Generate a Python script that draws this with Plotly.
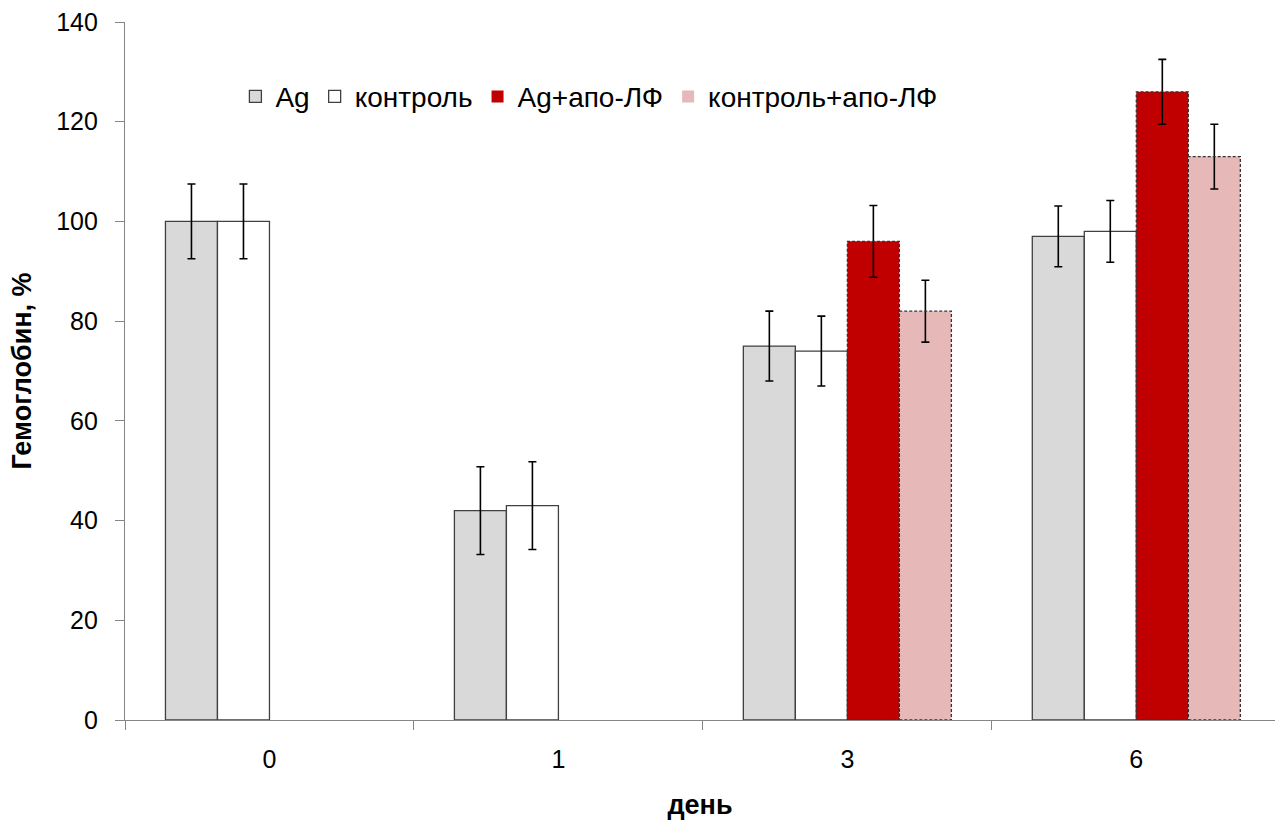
import plotly.graph_objects as go

# Days of observation
days = ["0", "1", "3", "6"]

# Hemoglobin, % of baseline, and standard errors
ag = [100, 42, 75, 97]
ag_err = [7.5, 8.8, 7.0, 6.1]
control = [100, 43, 74, 98]
control_err = [7.5, 8.8, 7.0, 6.2]
ag_apo = [None, None, 96, 126]
ag_apo_err = [None, None, 7.2, 6.5]
control_apo = [None, None, 82, 113]
control_apo_err = [None, None, 6.2, 6.5]

names = ["Ag", "контроль", "Ag+апо-ЛФ", "контроль+апо-ЛФ"]
fills = ["#d9d9d9", "#ffffff", "#c00000", "#e6b9b8"]
edge = "#404040"
FONT = "Arial, Liberation Sans, sans-serif"

series = [
    (ag, ag_err, 1),
    (control, control_err, 1),
    (ag_apo, ag_apo_err, 0),
    (control_apo, control_apo_err, 0),
]

BARGAP = 0.28
n_series = len(series)
bar_w = (1 - BARGAP) / n_series

fig = go.Figure()
shapes = []
for k, ((vals, errs, solid), name, col) in enumerate(zip(series, names, fills)):
    fig.add_trace(go.Bar(
        x=days, y=vals, name=name,
        marker=dict(color=col, line=dict(color=edge, width=1.3 if solid else 0)),
        error_y=dict(type="data", array=errs, visible=True,
                     color="#000000", thickness=1.6, width=4),
    ))
    if not solid:
        # dashed outline drawn around each bar of the series
        for i, v in enumerate(vals):
            if v is None:
                continue
            x0 = i - (1 - BARGAP) / 2 + k * bar_w
            shapes.append(dict(
                type="rect", xref="x", yref="y",
                x0=x0, x1=x0 + bar_w, y0=0, y1=v,
                line=dict(color="#333333", width=1.3, dash="3px,2px"),
                fillcolor="rgba(0,0,0,0)",
            ))

fig.update_layout(
    width=1275, height=823,
    margin=dict(l=125, r=0, t=22, b=103),
    paper_bgcolor="white", plot_bgcolor="white",
    barmode="group", bargap=BARGAP, bargroupgap=0,
    font=dict(family=FONT, size=25, color="#000000"),
    shapes=shapes,
    showlegend=True,
    legend=dict(
        orientation="h", x=0.096, y=0.893, xanchor="left", yanchor="middle",
        font=dict(size=28), bgcolor="rgba(0,0,0,0)",
        itemwidth=30, tracegroupgap=0,
    ),
    xaxis=dict(
        type="category", range=[-0.5, 3.48],
        showline=True, linecolor="#868686", linewidth=1.3,
        ticks="outside", tickson="boundaries", ticklen=9, tickcolor="#868686",
        tickfont=dict(size=25), ticklabelstandoff=17,
        title=dict(text="<b>день</b>", font=dict(size=27), standoff=22),
        showgrid=False, zeroline=False,
    ),
    yaxis=dict(
        range=[0, 140], dtick=20,
        showline=True, linecolor="#868686", linewidth=1.3,
        ticks="outside", ticklen=9, tickcolor="#868686",
        tickfont=dict(size=25), ticklabelstandoff=12,
        title=dict(text="<b>Гемоглобин, %</b>", font=dict(size=27), standoff=16),
        showgrid=False, zeroline=False,
    ),
)

fig.write_html("out.html")
